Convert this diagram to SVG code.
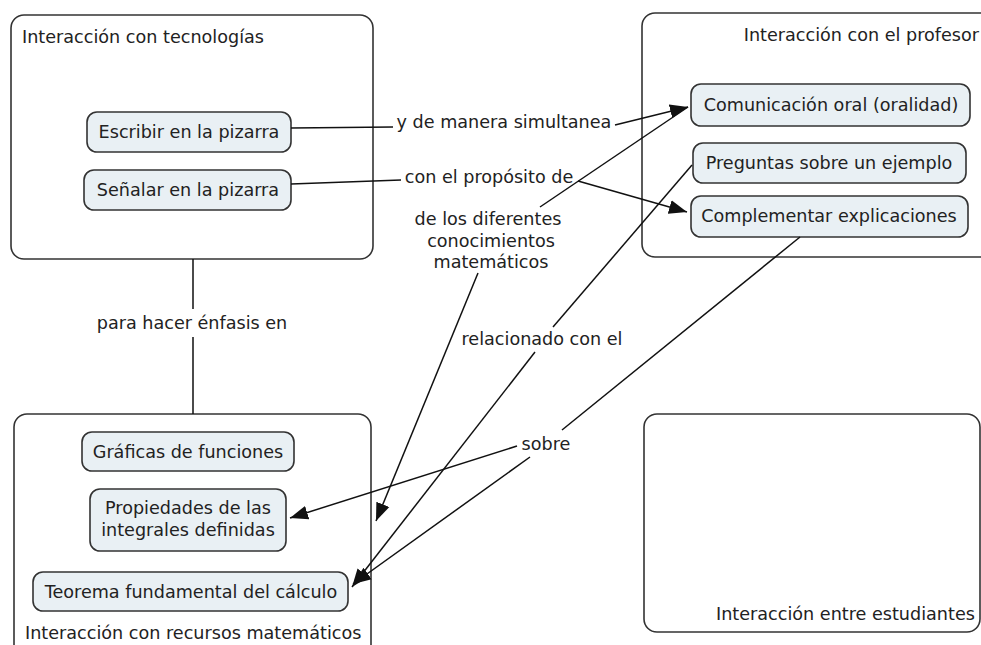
<svg xmlns="http://www.w3.org/2000/svg" width="981" height="645" viewBox="0 0 981 645">
<defs>
<marker id="arr" markerUnits="userSpaceOnUse" markerWidth="20" markerHeight="16" viewBox="0 0 20 16" refX="18" refY="8" orient="auto">
<path d="M0,1 L18,8 L0,15 Z" fill="#111"/>
</marker>
</defs>
<style>
text{font-family:"DejaVu Sans","Liberation Sans",sans-serif;font-size:17.6px;fill:#222}
.box{fill:#fff;stroke:#333;stroke-width:1.6}
.node{fill:#e9f0f4;stroke:#333;stroke-width:1.6}
.ln{fill:none;stroke:#111;stroke-width:1.5}
.c{text-anchor:middle}
</style>
<rect width="981" height="645" fill="#fff"/>
<g id="tecnologias">
<rect class="box" x="11" y="15" width="362" height="244" rx="13"/>
<text x="22" y="43">Interacción con tecnologías</text>
</g>
<g id="profesor">
<rect class="box" x="642" y="13" width="360" height="244" rx="13"/>
<text x="979" y="41" text-anchor="end">Interacción con el profesor</text>
</g>
<g id="recursos">
<rect class="box" x="14" y="414" width="357" height="250" rx="13"/>
<text x="25" y="639">Interacción con recursos matemáticos</text>
</g>
<g id="estudiantes">
<rect class="box" x="644" y="414" width="336" height="218" rx="13"/>
<text x="716" y="620">Interacción entre estudiantes</text>
</g>
<g id="escribir">
<rect class="node" x="87" y="112" width="204" height="40" rx="10"/>
<text class="c" x="189" y="138">Escribir en la pizarra</text>
</g>
<g id="senalar">
<rect class="node" x="84" y="170" width="207" height="40" rx="10"/>
<text class="c" x="188" y="196">Señalar en la pizarra</text>
</g>
<g id="comunicacion">
<rect class="node" x="691" y="84" width="279" height="42" rx="10"/>
<text class="c" x="831" y="111">Comunicación oral (oralidad)</text>
</g>
<g id="preguntas">
<rect class="node" x="693" y="143" width="273" height="40" rx="10"/>
<text class="c" x="829" y="169">Preguntas sobre un ejemplo</text>
</g>
<g id="complementar">
<rect class="node" x="691" y="196" width="277" height="41" rx="10"/>
<text class="c" x="829" y="222">Complementar explicaciones</text>
</g>
<g id="graficas">
<rect class="node" x="82" y="432" width="212" height="39" rx="10"/>
<text class="c" x="188" y="458">Gráficas de funciones</text>
</g>
<g id="propiedades">
<rect class="node" x="90" y="489" width="196" height="62" rx="10"/>
<text class="c" x="188" y="514">Propiedades de las</text>
<text class="c" x="188" y="536">integrales definidas</text>
</g>
<g id="teorema">
<rect class="node" x="33" y="572" width="315" height="39" rx="10"/>
<text class="c" x="191" y="598">Teorema fundamental del cálculo</text>
</g>
<g id="connectors">
<path class="ln" d="M193,259 L193,309 M193,337 L193,414"/>
<text class="c" x="192" y="329">para hacer énfasis en</text>
<path class="ln" d="M291,128 L393,127"/>
<path class="ln" d="M615,125 L688,107" marker-end="url(#arr)"/>
<text class="c" x="504" y="128">y de manera simultanea</text>
<path class="ln" d="M291,184 L401,180"/>
<path class="ln" d="M578,181 L687,212" marker-end="url(#arr)"/>
<text class="c" x="489" y="183">con el propósito de</text>
<path class="ln" d="M688,107 L540,207"/>
<path class="ln" d="M478,273 L376,521" marker-end="url(#arr)"/>
<text class="c" x="488" y="225">de los diferentes</text>
<text class="c" x="491" y="247">conocimientos</text>
<text class="c" x="491" y="268">matemáticos</text>
<path class="ln" d="M692,165 L553,327"/>
<path class="ln" d="M535,352 L352,587" marker-end="url(#arr)"/>
<text class="c" x="542" y="345">relacionado con el</text>
<path class="ln" d="M800,237 L562,430"/>
<path class="ln" d="M517,446 L290,518" marker-end="url(#arr)"/>
<path class="ln" d="M530,457 L353,584" marker-end="url(#arr)"/>
<text class="c" x="546" y="450">sobre</text>
</g>
</svg>
